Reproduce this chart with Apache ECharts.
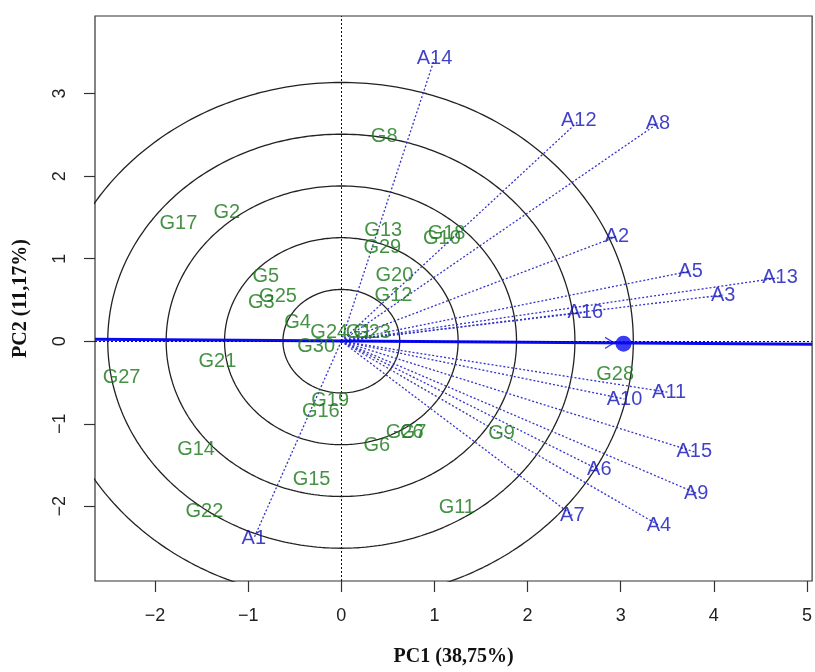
<!DOCTYPE html>
<html><head><meta charset="utf-8">
<script src="https://cdn.jsdelivr.net/npm/echarts@6/dist/echarts.min.js"></script>
<style>html,body{margin:0;padding:0;background:#fff}#c{width:815px;height:672px}</style>
</head><body><div id="c"></div>
<script>
// Environment vectors (blue)
const envNames = ['A1','A2','A3','A4','A5','A6','A7','A8','A9','A10','A11','A12','A13','A14','A15','A16'];
const envX = [-0.94, 2.96, 4.10, 3.41, 3.75, 2.77, 2.48, 3.40, 3.81, 3.04, 3.52, 2.55, 4.71, 1.00, 3.79, 2.62];
const envY = [-2.39, 1.27, 0.56, -2.23, 0.85, -1.56, -2.11, 2.64, -1.84, -0.70, -0.62, 2.67, 0.77, 3.42, -1.34, 0.35];

// Genotype scores (green)
const genNames = ['G1','G2','G3','G4','G5','G6','G7','G8','G9','G10','G11','G12','G13','G14','G15','G16','G17','G18','G19','G20','G21','G22','G23','G24','G25','G26','G27','G28','G29','G30'];
const genX = [0.19, -1.23, -0.86, -0.47, -0.81, 0.38, 0.77, 0.46, 1.72, 1.08, 1.24, 0.56, 0.45, -1.56, -0.32, -0.22, -1.75, 1.13, -0.12, 0.57, -1.33, -1.47, 0.33, -0.13, -0.68, 0.68, -2.36, 2.94, 0.44, -0.27];
const genY = [0.10, 1.56, 0.47, 0.23, 0.78, -1.26, -1.10, 2.48, -1.12, 1.25, -2.01, 0.56, 1.34, -1.31, -1.67, -0.85, 1.43, 1.31, -0.72, 0.80, -0.24, -2.06, 0.10, 0.10, 0.54, -1.10, -0.44, -0.40, 1.13, -0.06];

// Concentric circles (radii), average-environment axis, ideal point
const circleRadii = [0.627, 1.254, 1.881, 2.508, 3.135];
const aecX = [-2.645, 5.055];
const aecY = [0.024, -0.036];
const idealPoint = [3.03, -0.03];
const arrowPoint = [2.88, -0.02];

const xTicks = [-2, -1, 0, 1, 2, 3, 4, 5];
const yTicks = [-2, -1, 0, 1, 2, 3];
const xRange = [-2.645, 5.055];
const yRange = [-2.905, 3.94];

const GREEN = '#177717';
const BLUE_TXT = '#1010bc';
const BLUE_VEC = '#3434cc';
const BLUE_LINE = '#0a0aee';
const FONT = '"Liberation Sans", Arial, Helvetica, sans-serif';

const series = [];

// circles
circleRadii.forEach(function (r) {
  const pts = [];
  for (let i = 0; i <= 360; i++) {
    const a = i * Math.PI / 180;
    pts.push([r * Math.cos(a), r * Math.sin(a)]);
  }
  series.push({type: 'line', data: pts, showSymbol: false, symbol: 'none', clip: true, silent: true,
    lineStyle: {color: '#222', width: 1.3}, z: 2});
});

// zero dotted lines
series.push({type: 'line', data: [], silent: true,
  markLine: {silent: true, symbol: ['none', 'none'], label: {show: false},
    lineStyle: {color: '#111', type: [2, 2], width: 1},
    data: [{xAxis: 0}, {yAxis: 0}]}});

// env vectors
envNames.forEach(function (n, i) {
  series.push({type: 'line', data: [[0, 0], [envX[i], envY[i]]], showSymbol: false, symbol: 'none', silent: true,
    lineStyle: {color: BLUE_VEC, width: 1.3, type: [2, 2]}, z: 3});
});

// AEC line
series.push({type: 'line', data: aecX.map(function (x, i) { return [x, aecY[i]]; }), showSymbol: false, symbol: 'none',
  lineStyle: {color: BLUE_LINE, width: 3}, z: 4, silent: true});

// ideal point & arrow head
series.push({type: 'scatter', data: [idealPoint], symbolSize: 16, itemStyle: {color: BLUE_LINE}, z: 5, silent: true});
series.push({type: 'scatter', data: [arrowPoint], symbol: 'path://M0,0L10,5L0,10', symbolSize: [9, 11],
  itemStyle: {color: 'transparent', borderColor: BLUE_LINE, borderWidth: 1.2}, z: 5, silent: true});

// genotype labels
series.push({type: 'scatter', data: genNames.map(function (n, i) { return {value: [genX[i], genY[i]], name: n}; }),
  symbolSize: 1, itemStyle: {color: 'transparent'}, z: 6, silent: true,
  label: {show: true, position: 'inside', formatter: '{b}', color: GREEN, fontSize: 20, fontFamily: FONT}});

// environment labels
series.push({type: 'scatter', data: envNames.map(function (n, i) { return {value: [envX[i], envY[i]], name: n}; }),
  symbolSize: 1, itemStyle: {color: 'transparent'}, z: 7, silent: true,
  label: {show: true, position: 'inside', formatter: '{b}', color: BLUE_TXT, fontSize: 20, fontFamily: FONT}});

function fmt(v) { return v < 0 ? '\u2212' + (-v) : String(v); }

const chart = echarts.init(document.getElementById('c'), null, {renderer: 'canvas'});
chart.setOption({
  animation: false,
  backgroundColor: '#fff',
  grid: {left: 95, right: 1, top: 16, bottom: 85, show: true, borderColor: '#333', borderWidth: 1.2, containLabel: false},
  xAxis: {
    type: 'value', min: xRange[0], max: xRange[1],
    axisLine: {show: false, onZero: false},
    axisTick: {show: true, inside: false, length: 11, customValues: xTicks, lineStyle: {color: '#333', width: 1.2}},
    axisLabel: {show: true, customValues: xTicks, formatter: fmt, fontSize: 18, color: '#222', margin: 26, fontFamily: FONT},
    splitLine: {show: false},
    name: 'PC1 (38,75%)', nameLocation: 'middle', nameGap: 66,
    nameTextStyle: {fontFamily: '"Liberation Serif", "Times New Roman", serif', fontWeight: 'bold', fontSize: 20, color: '#111'}
  },
  yAxis: {
    type: 'value', min: yRange[0], max: yRange[1],
    axisLine: {show: false, onZero: false},
    axisTick: {show: true, inside: false, length: 11, customValues: yTicks, lineStyle: {color: '#333', width: 1.2}},
    axisLabel: {show: true, customValues: yTicks, formatter: fmt, rotate: 90, fontSize: 18, color: '#222', margin: 26, fontFamily: FONT},
    splitLine: {show: false},
    name: 'PC2 (11,17%)', nameLocation: 'middle', nameGap: 64,
    nameTextStyle: {fontFamily: '"Liberation Serif", "Times New Roman", serif', fontWeight: 'bold', fontSize: 20, color: '#111'}
  },
  series: series
});
</script>
</body></html>
